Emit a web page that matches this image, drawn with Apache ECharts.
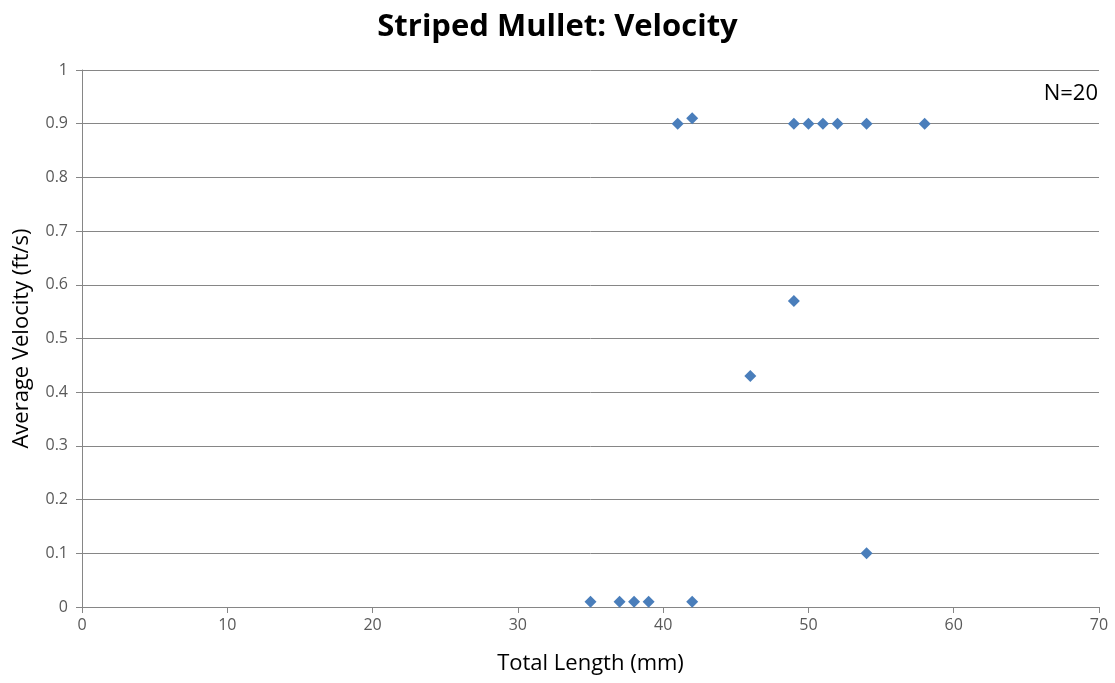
<!DOCTYPE html>
<html>
<head>
<meta charset="utf-8">
<script src="https://cdn.jsdelivr.net/npm/echarts@6/dist/echarts.min.js"></script>
<style>
  html, body { margin: 0; padding: 0; background: #fff; }
  #chart { width: 1115px; height: 683px; }
</style>
</head>
<body>
<div id="chart"></div>
<script>
// total length (mm) vs average velocity (ft/s)
var LENGTHS = [41, 42, 49, 50, 51, 52, 54, 58, 49, 46, 54, 35, 37, 38, 39, 42];
var VELOCITY = [0.9, 0.91, 0.9, 0.9, 0.9, 0.9, 0.9, 0.9, 0.57, 0.43, 0.1, 0.01, 0.01, 0.01, 0.01, 0.01];
var X_TICKS = [0, 10, 20, 30, 40, 50, 60, 70];
var Y_TICKS = [0, 0.1, 0.2, 0.3, 0.4, 0.5, 0.6, 0.7, 0.8, 0.9, 1];

var points = [];
for (var i = 0; i < LENGTHS.length; i++) {
    points.push([LENGTHS[i], VELOCITY[i]]);
}

var font = "'Open Sans', 'Liberation Sans', sans-serif";

var option = {
    animation: false,
    textStyle: { fontFamily: font },
    title: {
        text: 'Striped Mullet: Velocity',
        left: 'center',
        top: 7,
        textStyle: { fontSize: 31, fontWeight: 'bold', color: '#000', fontFamily: font }
    },
    grid: { left: 82, right: 16, top: 70, bottom: 76, outerBoundsMode: 'none' },
    graphic: [{
        type: 'text',
        right: 17,
        top: 83,
        style: { text: 'N=20', fontSize: 22, fill: '#000', fontFamily: font }
    }],
    xAxis: {
        type: 'value',
        min: X_TICKS[0],
        max: X_TICKS[X_TICKS.length - 1],
        interval: 10,
        name: 'Total Length (mm)',
        nameLocation: 'middle',
        nameGap: 46,
        nameTextStyle: { fontSize: 22, color: '#000' },
        axisLine: { show: true, lineStyle: { color: '#868686' } },
        axisTick: { show: true, length: 6, lineStyle: { color: '#868686' } },
        axisLabel: { fontSize: 16, color: '#595959', margin: 10 },
        splitLine: { show: false }
    },
    yAxis: {
        type: 'value',
        min: Y_TICKS[0],
        max: Y_TICKS[Y_TICKS.length - 1],
        interval: 0.1,
        name: 'Average Velocity (ft/s)',
        nameLocation: 'middle',
        nameGap: 49,
        nameTextStyle: { fontSize: 22, color: '#000' },
        axisLine: { show: true, lineStyle: { color: '#868686' } },
        axisTick: { show: true, length: 6, lineStyle: { color: '#868686' } },
        axisLabel: { fontSize: 16, color: '#595959', margin: 14 },
        splitLine: { show: true, lineStyle: { color: '#868686', width: 1 } }
    },
    series: [{
        type: 'scatter',
        symbol: 'diamond',
        symbolSize: 12,
        itemStyle: { color: '#4A7EBB', opacity: 1 },
        data: points
    }]
};

var myChart = echarts.init(document.getElementById('chart'));
myChart.setOption(option);
</script>
</body>
</html>
